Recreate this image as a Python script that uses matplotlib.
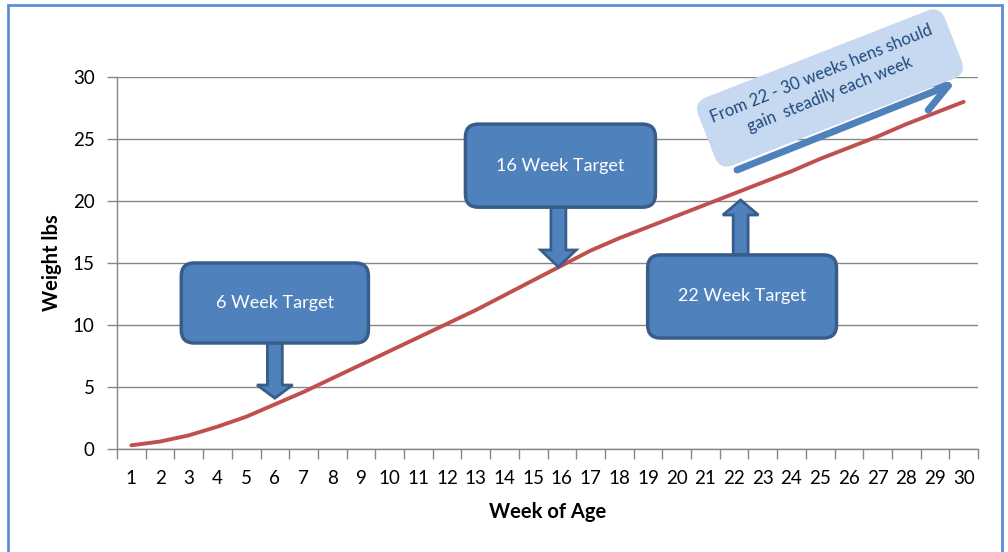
import numpy as np
import matplotlib
matplotlib.use('Agg')
import matplotlib.pyplot as plt
import matplotlib.transforms as mtransforms
from matplotlib.patches import FancyBboxPatch, Polygon, Rectangle

# Data
weeks = list(range(1, 31))
weight = [0.3, 0.6, 1.1, 1.8, 2.6, 3.6, 4.6, 5.7, 6.8, 7.9,
          9.0, 10.1, 11.2, 12.4, 13.6, 14.8, 16.0, 17.0, 17.9, 18.8,
          19.7, 20.6, 21.5, 22.4, 23.4, 24.3, 25.2, 26.2, 27.1, 28.0]
y_ticks = [0, 5, 10, 15, 20, 25, 30]

callout_labels = ['6 Week Target', '16 Week Target', '22 Week Target']
note_text = 'From 22 - 30 weeks hens should\ngain  steadily each week'

plt.rcParams['font.family'] = ['Lato', 'DejaVu Sans']

fig = plt.figure(figsize=(10.08, 5.52), dpi=100)
ax = fig.add_axes([117 / 1008, 1 - 449 / 552, (978 - 117) / 1008, (449 - 77) / 552])

grey = '#868686'
ax.plot(weeks, weight, color='#C0504D', lw=2.8, solid_capstyle='round', zorder=3)

ax.set_xlim(0.5, 30.5)
ax.set_ylim(0, 30)
ax.set_xticks(weeks)
ax.set_xticks(np.arange(0.5, 31, 1), minor=True)
ax.set_yticks(y_ticks)
ax.tick_params(axis='x', which='major', length=0, pad=15, labelsize=13.5)
ax.tick_params(axis='x', which='minor', length=7, color=grey, width=1)
ax.tick_params(axis='y', length=7, color=grey, width=1, pad=9, labelsize=13.5)
ax.yaxis.grid(True, color=grey, lw=1)
ax.set_axisbelow(True)
for s in ['top', 'right']:
    ax.spines[s].set_visible(False)
for s in ['left', 'bottom']:
    ax.spines[s].set_color(grey)
    ax.spines[s].set_linewidth(1)

ax.set_xlabel('Week of Age', fontsize=14.5, fontweight='bold', labelpad=11)
ax.set_ylabel('Weight lbs', fontsize=14.5, fontweight='bold', labelpad=8)

# callout boxes (data coords)
fill = '#4F81BD'
edge = '#385D8A'
aspect = (861 / 30) / (372 / 30)
boxes = [(2.74, 8.55, 9.26, 15.0), (12.64, 19.5, 19.26, 26.2), (18.99, 8.95, 25.57, 15.65)]
# arrow: x centre, start y, head base y, tip y
arrows = [(6.0, 8.55, 5.16, 4.1), (15.88, 19.5, 16.05, 14.68), (22.23, 15.65, 18.87, 20.08)]

for (x0, y0, x1, y1), (ax_x, ys, yb, yt), lab in zip(boxes, arrows, callout_labels):
    box = FancyBboxPatch((x0, y0), x1 - x0, y1 - y0,
                         boxstyle='round,pad=0,rounding_size=0.45',
                         mutation_aspect=aspect, fc=fill, ec=edge, lw=2.5, zorder=5)
    ax.add_patch(box)
    sw, hw = 0.26, 0.62
    pts = [(ax_x - sw, ys), (ax_x - sw, yb), (ax_x - hw, yb), (ax_x, yt),
           (ax_x + hw, yb), (ax_x + sw, yb), (ax_x + sw, ys)]
    ax.add_patch(Polygon(pts, closed=True, fc=fill, ec=edge, lw=2, zorder=4))
    ax.text((x0 + x1) / 2, (y0 + y1) / 2, lab, ha='center', va='center',
            color='white', fontsize=13, zorder=6)

# rotated note box in figure pixels
cx, cy = 830, 552 - 88
rot = mtransforms.Affine2D().rotate_deg_around(cx, cy, 21.4)
note = FancyBboxPatch((cx - 132.5, cy - 36.5), 265, 73,
                      boxstyle='round,pad=0,rounding_size=14',
                      fc='#C6D9F1', ec='none', transform=rot, zorder=2)
fig.add_artist(note)
ax.annotate('', xy=(955, 552 - 83), xytext=(737, 552 - 170),
            xycoords='figure pixels', textcoords='figure pixels',
            arrowprops=dict(arrowstyle='->,head_length=1.0,head_width=0.55',
                            lw=5, color='#4F81BD', mutation_scale=20,
                            shrinkA=0, shrinkB=0),
            annotation_clip=False, zorder=7)
fig.text(826 / 1008, 1 - 84 / 552, note_text, ha='center', va='center',
         rotation=22, rotation_mode='anchor', multialignment='center',
         color='#1F497D', fontsize=12, linespacing=1.5, zorder=8)

# outer frame
fig.add_artist(Rectangle((8 / 1008, -0.05), (1002 - 8) / 1008, 1.05 - 5 / 552,
                         transform=fig.transFigure, fill=False,
                         ec='#5B8ED6', lw=2))

fig.savefig('out.png', dpi=100)
